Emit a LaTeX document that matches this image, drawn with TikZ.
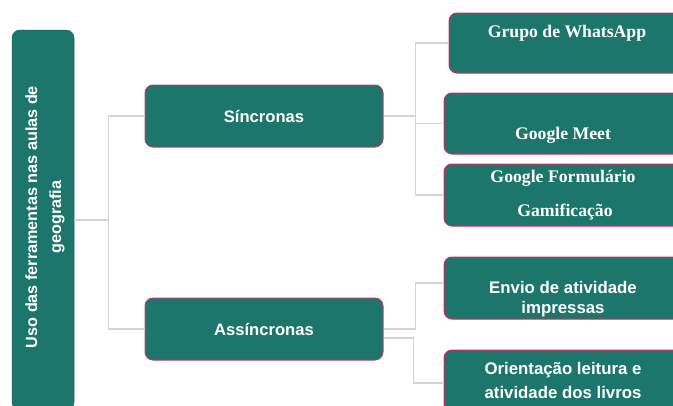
\documentclass[tikz,border=0pt]{standalone}
\usepackage{fontspec}
\newfontfamily\sansb{Liberation Sans}
\newfontfamily\serifb{Liberation Serif}
\definecolor{teal1}{RGB}{29,118,107}
\definecolor{pinkb}{RGB}{222,36,96}
\definecolor{roseb}{RGB}{184,64,106}
\definecolor{connc}{RGB}{212,212,212}
\begin{document}
\begin{tikzpicture}[x=1pt,y=-1pt,
  box/.style={draw=pinkb,line width=1pt,fill=teal1,rounded corners=8pt,inner sep=0pt,anchor=center},
  midbox/.style={box,draw=roseb,font=\sansb\bfseries\fontsize{16.6}{20}\selectfont,text=white},
  rootbox/.style={box,draw=teal1!80!black,line width=0.5pt},
  sanst/.style={font=\sansb\bfseries\fontsize{16.8}{20}\selectfont,text=white,inner sep=0pt,anchor=center},
  seriftxt/.style={font=\serifb\bfseries\fontsize{17.7}{20}\selectfont,text=white,inner sep=0pt,anchor=center},
  conn/.style={draw=connc,line width=1.2pt}]
\useasboundingbox (0,0) rectangle (673,405);
\clip (0,0) rectangle (673,405);
% boxes
\node[rootbox,minimum width=62pt,minimum height=380pt] (root) at (43,220) {};
\node[sanst,rotate=90,align=center,font=\sansb\bfseries\fontsize{16.2}{24}\selectfont] (roott) at (45,217) {Uso das ferramentas nas aulas de\\geografia};
\node[midbox,minimum width=238pt,minimum height=62pt] (sinc) at (264,116) {Síncronas};
\node[midbox,minimum width=238pt,minimum height=62pt] (assinc) at (264,329) {Assíncronas};
\node[box,minimum width=235pt,minimum height=60pt] (grupo) at (566.5,43) {};
\node[box,minimum width=240pt,minimum height=61pt] (meet) at (564,123.5) {};
\node[box,minimum width=240pt,minimum height=62pt] (gam) at (564,195) {};
\node[box,minimum width=240pt,minimum height=62pt] (envio) at (564,288) {};
\node[box,minimum width=240pt,minimum height=62pt] (orient) at (564,381) {};
% texts
\node[seriftxt] (grupot) at (567,33) {Grupo de WhatsApp};
\node[seriftxt] (meett) at (563,135) {Google Meet};
\node[seriftxt] (formt) at (563,178) {Google Formulário};
\node[seriftxt] (gamt) at (565,212) {Gamificação};
\node[sanst] (enviot1) at (563,287) {Envio de atividade};
\node[sanst] (enviot2) at (563,309) {impressas};
\node[sanst] (oriet1) at (563,370) {Orientação leitura e};
\node[sanst] (oriet2) at (563,392) {atividade dos livros};
% connectors
\draw[conn] (root.east) -- ++(34,0) coordinate (rj);
\draw[conn] (sinc.west) -| (rj);
\draw[conn] (assinc.west) -| (rj);
\draw[conn] (sinc.east) -- ++(32,0) coordinate (sj);
\draw[conn] (grupo.west) -| (sj);
\draw[conn] (meet.west) -| (sj);
\draw[conn] (gam.west) -| (sj);
\draw[conn] (assinc.east) -- ++(32,0) coordinate (aj) |- ([yshift=5pt]envio.west);
\draw[conn] ([yshift=-9pt]assinc.east) -- ++(30,0) coordinate (aj2) |- ([yshift=-2pt]orient.west);
\end{tikzpicture}
\end{document}
